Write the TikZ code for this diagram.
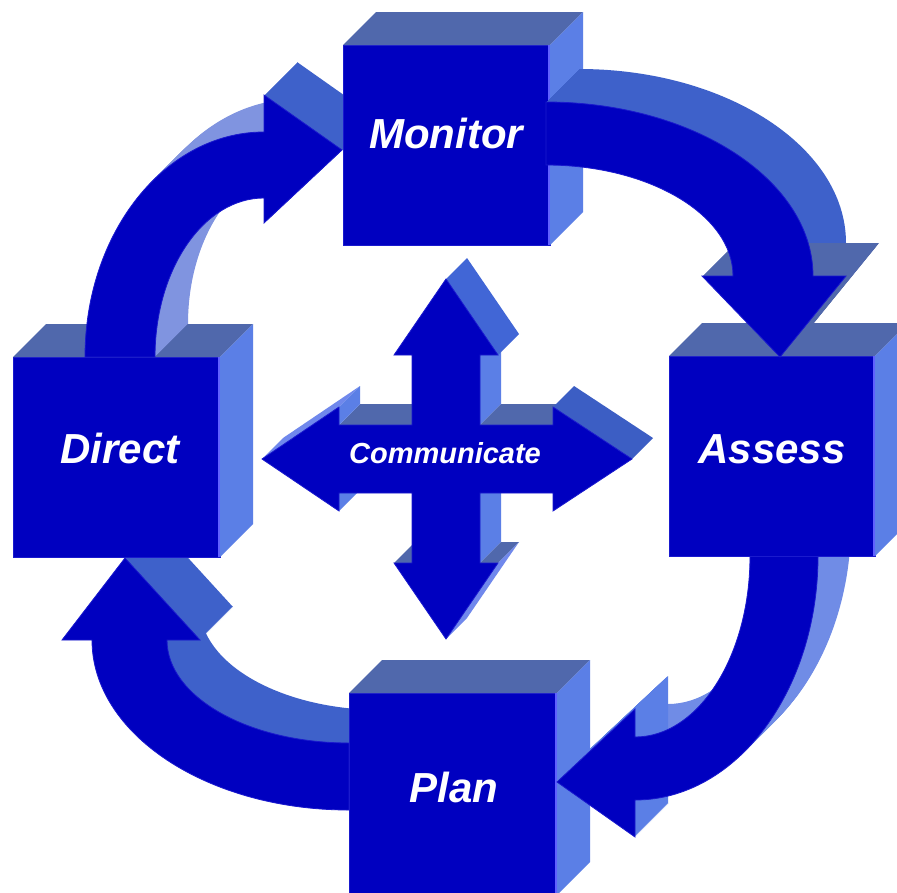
\documentclass[tikz,border=0pt]{standalone}
\usepackage{fontspec}
\setmainfont{Liberation Sans}
\definecolor{frontc}{RGB}{0,0,192}
\definecolor{topc}{RGB}{80,104,172}
\definecolor{rightc}{RGB}{91,127,230}
\definecolor{edgec}{RGB}{96,96,255}
\definecolor{linec}{RGB}{26,26,206}
\definecolor{sweepdark}{RGB}{62,97,202}
\definecolor{bandpale}{RGB}{128,148,224}
\definecolor{bandlight}{RGB}{112,140,230}
\definecolor{uphead}{RGB}{65,102,214}
\definecolor{rhead}{RGB}{60,94,196}
\definecolor{sliver}{RGB}{112,136,236}
% bands and heads of the four curved arrows
\newcommand\bandDM{(85,357) .. controls (85,232.7) and (165.1,132) .. (264,132) -- (264,198) .. controls (203.8,198) and (155,269.2) .. (155,357) -- cycle}
\newcommand\headDM{(264,95) -- (342,150) -- (264,223) -- cycle}
\newcommand\pathDM{(85,357) .. controls (85,232.7) and (165.1,132) .. (264,132) -- (264,95) -- (342,150) -- (264,223) -- (264,198) .. controls (203.8,198) and (155,269.2) .. (155,357) -- cycle}
\newcommand\bandMA{(546,102) .. controls (693,102) and (813,179.9) .. (813,276) -- (733,276) .. controls (733,214.7) and (649,165) .. (546,165) -- cycle}
\newcommand\headMA{(702,276) -- (846,276) -- (780,357) -- cycle}
\newcommand\pathMA{(546,102) .. controls (693,102) and (813,179.9) .. (813,276) -- (846,276) -- (780,357) -- (702,276) -- (733,276) .. controls (733,214.7) and (649,165) .. (546,165) -- cycle}
\newcommand\bandAP{(818,556) .. controls (818,690.8) and (736.1,800) .. (635,800) -- (635,737) .. controls (698.5,737) and (750,656) .. (750,556) -- cycle}
\newcommand\headAP{(635,709) -- (635,837) -- (557,782) -- cycle}
\newcommand\pathAP{(818,556) .. controls (818,690.8) and (736.1,800) .. (635,800) -- (635,837) -- (557,782) -- (635,709) -- (635,737) .. controls (698.5,737) and (750,656) .. (750,556) -- cycle}
\newcommand\bandPD{(349,810) .. controls (207.1,810) and (92,733.9) .. (92,640) -- (167,640) .. controls (167,696.9) and (248.5,743) .. (349,743) -- cycle}
\newcommand\headPD{(62,640) -- (125,558) -- (200,640) -- cycle}
\newcommand\pathPD{(349,810) .. controls (207.1,810) and (92,733.9) .. (92,640) -- (62,640) -- (125,558) -- (200,640) -- (167,640) .. controls (167,696.9) and (248.5,743) .. (349,743) -- cycle}
\newcommand\cubefaces[1]{%
  \fill[cubetop] (#1.north west) -- (#1.north east) -- ([shift={(33,-33)}]#1.north east) -- ([shift={(33,-33)}]#1.north west) -- cycle;
  \fill[cuberight] (#1.north east) -- (#1.south east) -- ([shift={(33,-33)}]#1.south east) -- ([shift={(33,-33)}]#1.north east) -- cycle;
  \draw[cubeedge] ([xshift=-1pt]#1.north east) -- ([xshift=-1pt]#1.south east);}
\newcommand\sweepit[2]{\foreach \t in {1,...,33}{\fill[#1,shift={(\t,-\t)}] #2;}}
\begin{document}
\begin{tikzpicture}[x=1pt,y=-1pt,
  cubefront/.style={fill=frontc, draw=linec, line width=0.8pt, inner sep=0pt, outer sep=0pt},
  cubetop/.style={fill=topc},
  cuberight/.style={fill=rightc},
  cubeedge/.style={draw=edgec, line width=2pt},
  arrowfront/.style={fill=frontc, draw=linec, line width=0.8pt, line join=miter},
  lbl/.style={text=white, anchor=base, inner sep=0pt, font=\fontsize{42}{48}\selectfont\bfseries\itshape},
  smalllbl/.style={text=white, anchor=base, inner sep=0pt, font=\fontsize{29}{34}\selectfont\bfseries\itshape},
  face/.style={line join=miter}]
\useasboundingbox (0,0) rectangle (897,892);
\fill[white] (0,0) rectangle (897,892);
\clip (0,0) rectangle (897,892);

% Plan -> Direct arrow (behind Direct and Plan)
\sweepit{fill=sweepdark}{\bandPD}
\sweepit{fill=sweepdark}{\headPD}
\filldraw[arrowfront] \pathPD;

% Direct cube
\node[cubefront, minimum width=207pt, minimum height=200pt] (direct) at (116.5,457) {};
\cubefaces{direct}
\node[lbl] (tdirect) at (120,463) {Direct};

% Direct -> Monitor arrow
\sweepit{fill=bandpale}{\bandDM}
\sweepit{fill=sweepdark}{\headDM}
\filldraw[arrowfront] \pathDM;

% Plan cube
\node[cubefront, minimum width=208pt, minimum height=202pt] (plan) at (453,794) {};
\cubefaces{plan}
\node[lbl] (tplan) at (454,802) {Plan};

% Assess -> Plan arrow
\sweepit{fill=bandlight}{\bandAP}
\sweepit{fill=rightc}{\headAP}
\filldraw[arrowfront] \pathAP;

% Monitor cube
\node[cubefront, minimum width=207pt, minimum height=200pt] (monitor) at (446.5,145) {};
\cubefaces{monitor}
\node[lbl] (tmonitor) at (446,148) {Monitor};

% Assess cube
\node[cubefront, minimum width=206pt, minimum height=200pt] (assess) at (772,456) {};
\cubefaces{assess}
\node[lbl] (tassess) at (772,463) {Assess};

% Monitor -> Assess arrow
\sweepit{fill=sweepdark}{\bandMA}
\sweepit{fill=topc}{\headMA}
\filldraw[arrowfront] \pathMA;

% Communicate cross: side faces of the bars
\fill[rightc,face] (480,355) -- (480,425) -- (501,404) -- (501,334) -- cycle;
\fill[topc,face] (480,425) -- (553,425) -- (574,404) -- (501,404) -- cycle;
\fill[topc,face] (339,425) -- (412,425) -- (433,404) -- (360,404) -- cycle;
\fill[rightc,face] (480,493) -- (480,563) -- (501,542) -- (501,472) -- cycle;
% side faces of the heads
\fill[uphead,face] (446,279) -- (498,355) -- (519,334) -- (467,258) -- cycle;
\fill[rhead,face] (553,407) -- (632,459) -- (653,438) -- (574,386) -- cycle;
\fill[topc,face] (394,563) -- (412,563) -- (433,542) -- (415,542) -- cycle;
\fill[topc,face] (480,563) -- (498,563) -- (519,542) -- (501,542) -- cycle;
\fill[sliver,face] (498,563) -- (446,639) -- (467,618) -- (519,542) -- cycle;
\fill[sliver,face] (262,459) -- (339,407) -- (360,386) -- (283,438) -- cycle;
\fill[rightc,face] (339,407) -- (339,425) -- (360,404) -- (360,386) -- cycle;
\fill[rightc,face] (339,493) -- (339,511) -- (360,490) -- (360,472) -- cycle;
% front of the cross
\filldraw[arrowfront] (412,355) -- (394,355) -- (446,279) -- (498,355) -- (480,355) -- (480,425)
  -- (553,425) -- (553,407) -- (632,459) -- (553,511) -- (553,493) -- (480,493)
  -- (480,563) -- (498,563) -- (446,639) -- (394,563) -- (412,563) -- (412,493)
  -- (339,493) -- (339,511) -- (262,459) -- (339,407) -- (339,425) -- (412,425) -- cycle;
\node[smalllbl] (tcomm) at (445,463) {Communicate};
\end{tikzpicture}
\end{document}
